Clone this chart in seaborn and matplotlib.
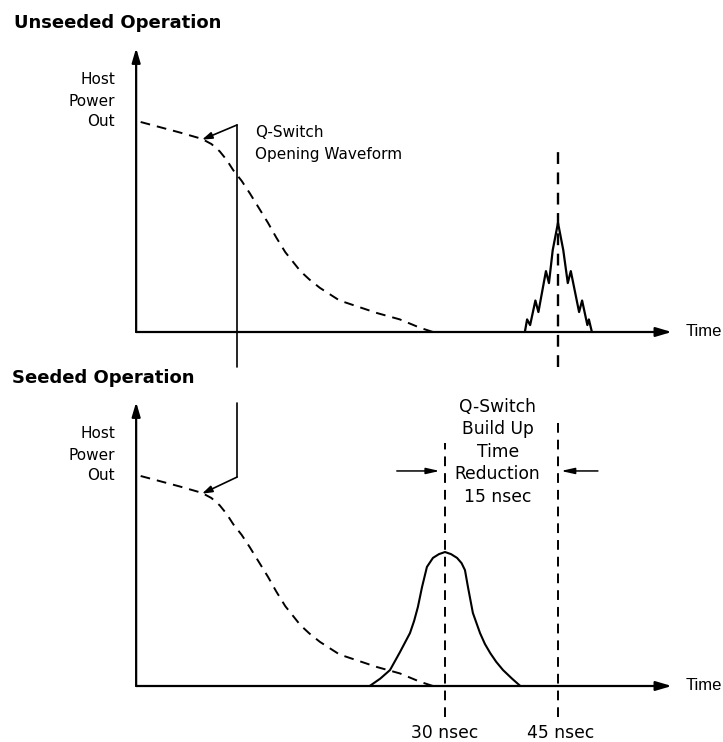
import matplotlib
matplotlib.use("Agg")
import matplotlib.pyplot as plt
import seaborn as sns

sns.set_style("white")
plt.rcParams["font.family"] = ["DejaVu Sans"]
plt.rcParams["text.color"] = "black"

# ---------------- data (time in nsec, power in relative units) ----------------
decay_time = [-10.4, -5.2, -2.3, -1.0, 0.1, 1.0, 1.9, 3.0, 4.1, 5.3, 6.5, 7.6, 8.8, 10.8, 12.0, 13.4, 16.0, 18.5, 21.0, 24.0, 26.7, 28.4]
decay_power = [1.0, 0.95, 0.92, 0.895, 0.86, 0.82, 0.77, 0.72, 0.66, 0.59, 0.52, 0.45, 0.38, 0.29, 0.25, 0.21, 0.15, 0.12, 0.09, 0.06, 0.02, 0.0]

unseeded_time = [40.6, 40.9, 41.3, 42.0, 42.4, 43.4, 43.8, 44.3, 45.0, 45.7, 46.3, 46.7, 47.8, 48.2, 48.9, 49.1, 49.5]
unseeded_power = [0, 0.06, 0.033, 0.15, 0.095, 0.29, 0.233, 0.39, 0.52, 0.39, 0.233, 0.29, 0.095, 0.15, 0.033, 0.06, 0]

seeded_time = [20.0, 21.4, 22.7, 24.0, 25.35, 25.9, 26.4, 26.95, 27.6, 28.4, 29.2, 30.0, 30.8, 31.6, 32.2, 32.65, 33.05, 33.7, 34.65, 35.3, 36.0, 36.8, 37.7, 38.9, 40.0]
seeded_power = [0, 0.035, 0.076, 0.16, 0.252, 0.31, 0.376, 0.471, 0.567, 0.610, 0.628, 0.638, 0.628, 0.610, 0.585, 0.552, 0.471, 0.348, 0.252, 0.20, 0.157, 0.115, 0.076, 0.035, 0]

axis_origin = -11.0
axis_end = 60.1
axis_top = 1.352
qswitch_time = 2.4
qswitch_tip = (-2.25, 0.916)
seeded_peak_time = 30
unseeded_peak_time = 45
marker_labels = ["30 nsec", "45 nsec"]
ylabel_lines = ["Host", "Power", "Out"]
qs_label_lines = ["Q-Switch", "Opening Waveform"]
reduction_lines = ["Q-Switch", "Build Up", "Time", "Reduction", "15 nsec"]
titles = ["Unseeded Operation", "Seeded Operation"]

# ---------------- layout (pixel-based scale) ----------------
W, H = 723, 742
PX_NS = 7.533
PX_UNIT = 210.0
X_REF_PX = 445.0  # pixel of t = 30 ns

fig = plt.figure(figsize=(W / 100, H / 100), dpi=100)
ax_top = fig.add_axes([0, 0.5, 1, 0.5])
ax_bot = fig.add_axes([0, 0.0, 1, 0.5])

xlim = (30 - X_REF_PX / PX_NS, 30 + (W - X_REF_PX) / PX_NS)
half = H / 2
ax_top.set_xlim(*xlim)
ax_top.set_ylim(-(half - 332) / PX_UNIT, 332 / PX_UNIT)
ax_bot.set_xlim(*xlim)
ax_bot.set_ylim(-(H - 686) / PX_UNIT, (686 - half) / PX_UNIT)
for ax in (ax_top, ax_bot):
    ax.axis("off")

DASH = (0, (5, 3.6))


def arrow(ax, start, end, hl, hw, lw):
    ax.annotate("", xy=end, xytext=start, annotation_clip=False,
                arrowprops=dict(arrowstyle=f"-|>,head_length={hl},head_width={hw}",
                                lw=lw, color="black", shrinkA=0, shrinkB=0))


def draw_axes(ax):
    arrow(ax, (axis_origin, 0), (axis_origin, axis_top), 0.85, 0.25, 1.6)
    arrow(ax, (axis_origin, 0), (axis_end, 0), 0.95, 0.28, 1.6)
    ax.text(61.9, 0, "Time", ha="left", va="center", fontsize=12,
            family=["Liberation Sans", "DejaVu Sans"], color="black")
    for i, s in enumerate(ylabel_lines):
        ax.text(-13.8, 1.2 - i * 0.1, s, ha="right", va="center", fontsize=11, color="black")


# ---------------- top panel: unseeded ----------------
draw_axes(ax_top)
sns.lineplot(x=decay_time, y=decay_power, ax=ax_top, color="black", lw=1.4, linestyle=DASH)
sns.lineplot(x=unseeded_time, y=unseeded_power, ax=ax_top, color="black", lw=1.6)
ax_top.vlines(unseeded_peak_time, -0.167, 0.876, colors="black", lw=1.7, linestyles=[DASH])
ax_top.plot([qswitch_time, qswitch_time], [-0.167, 0.986], color="black", lw=1.2)
arrow(ax_top, (qswitch_time, 0.986), qswitch_tip, 0.6, 0.2, 1.2)
for i, s in enumerate(qs_label_lines):
    ax_top.text(4.78, 0.948 - i * 0.105, s, ha="left", va="center", fontsize=11, color="black")

# ---------------- bottom panel: seeded ----------------
draw_axes(ax_bot)
sns.lineplot(x=decay_time, y=decay_power, ax=ax_bot, color="black", lw=1.4, linestyle=DASH)
sns.lineplot(x=seeded_time, y=seeded_power, ax=ax_bot, color="black", lw=1.5)
ax_bot.vlines(seeded_peak_time, -0.148, 1.157, colors="black", lw=1.4, linestyles=[DASH])
ax_bot.vlines(unseeded_peak_time, -0.148, 1.252, colors="black", lw=1.4, linestyles=[DASH])
ax_bot.plot([qswitch_time, qswitch_time], [0.995, 1.348], color="black", lw=1.2)
arrow(ax_bot, (qswitch_time, 0.995), qswitch_tip, 0.6, 0.2, 1.2)

arrow(ax_bot, (23.6, 1.024), (29.3, 1.024), 0.8, 0.18, 1.1)
arrow(ax_bot, (50.3, 1.024), (45.4, 1.024), 0.8, 0.18, 1.1)
for i, s in enumerate(reduction_lines):
    ax_bot.text(37.0, 1.329 - i * 0.107, s, ha="center", va="center", fontsize=12.3, color="black")
for t, s in zip([seeded_peak_time, unseeded_peak_time + 0.4], marker_labels):
    ax_bot.text(t, -0.224, s, ha="center", va="center", fontsize=12.3, color="black")

# ---------------- titles ----------------
fig.text(14 / W, 1 - 23 / H, titles[0], ha="left", va="center", fontsize=13,
         fontweight="bold", color="black")
fig.text(12 / W, 1 - 378 / H, titles[1], ha="left", va="center", fontsize=13,
         fontweight="bold", color="black")

fig.savefig("out.png", dpi=100, facecolor="white")
